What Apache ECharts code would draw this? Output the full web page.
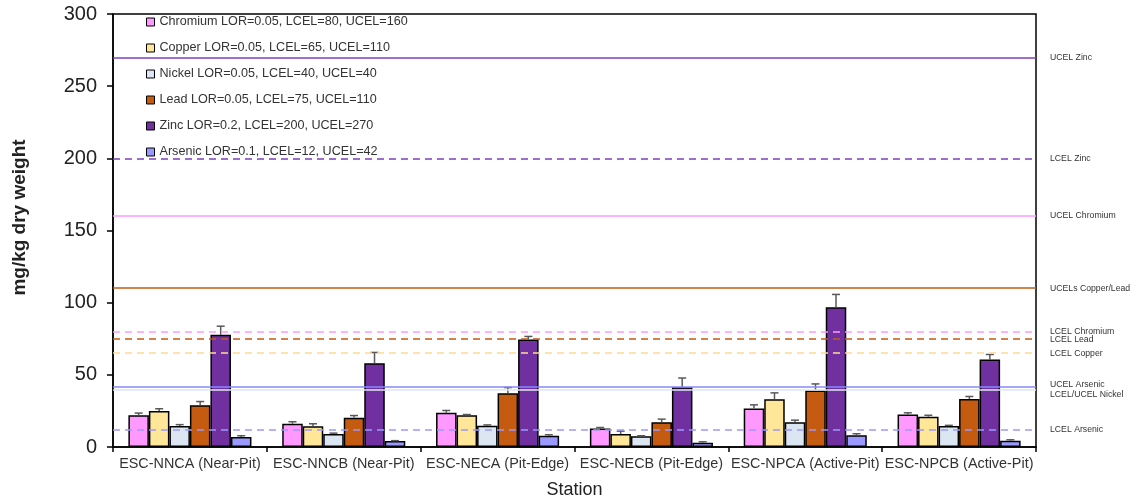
<!DOCTYPE html>
<html>
<head>
<meta charset="utf-8">
<script src="https://cdn.jsdelivr.net/npm/echarts@6/dist/echarts.min.js"></script>
<style>html,body{margin:0;padding:0;background:#fff}#chart{width:1136px;height:500px}</style>
</head>
<body>
<div id="chart"></div>
<script>
// ---- data ----
var stations = ['ESC-NNCA (Near-Pit)', 'ESC-NNCB (Near-Pit)', 'ESC-NECA (Pit-Edge)', 'ESC-NECB (Pit-Edge)', 'ESC-NPCA (Active-Pit)', 'ESC-NPCB (Active-Pit)'];
var seriesNames = ['Chromium LOR=0.05, LCEL=80, UCEL=160', 'Copper LOR=0.05, LCEL=65, UCEL=110', 'Nickel LOR=0.05, LCEL=40, UCEL=40', 'Lead LOR=0.05, LCEL=75, UCEL=110', 'Zinc LOR=0.2, LCEL=200, UCEL=270', 'Arsenic LOR=0.1, LCEL=12, UCEL=42'];
var chromium = [22, 16.1, 23.7, 12.9, 26.7, 22.5];
var copper   = [25, 14.3, 22, 9, 33.1, 20.9];
var nickel   = [14.5, 9, 14.7, 7.4, 17.2, 14.5];
var lead     = [29, 20.2, 37.2, 17.2, 39.1, 33.3];
var zinc     = [77.7, 58.1, 74.5, 41.4, 96.8, 60.7];
var arsenic  = [6.9, 4.1, 7.8, 3, 8.1, 4.3];
var chromiumErr = [1.5, 1.4, 1.6, 0.6, 2.5, 1.2];
var copperErr   = [1.5, 1.8, 0.5, 2, 4.4, 1.1];
var nickelErr   = [1, 0.6, 0.6, 0.4, 1.4, 0.5];
var leadErr     = [2.5, 1.6, 4, 2.1, 4.6, 1.7];
var zincErr     = [6, 7.4, 2.1, 6.4, 8.9, 3.4];
var arsenicErr  = [0.9, 0.3, 0.7, 0.6, 1.1, 0.7];
var refValues = [270, 200, 160, 110, 80, 75, 65, 42, 40, 12];
var refLabels = ['UCEL Zinc', 'LCEL Zinc', 'UCEL Chromium', 'UCELs Copper/Lead', 'LCEL Chromium', 'LCEL Lead', 'LCEL Copper', 'UCEL Arsenic', 'LCEL/UCEL Nickel', 'LCEL Arsenic'];
var yTicks = [0, 50, 100, 150, 200, 250, 300];

// ---- styles ----
var barColors = ['#ff99ff', '#ffe699', '#dce6f2', '#c55a11', '#7030a0', '#9999ff'];
var refStyles = [
  {color: '#7f3fbf', type: 'solid'},
  {color: '#7f3fbf', type: [7, 5]},
  {color: '#ff99ff', type: 'solid'},
  {color: '#c55a11', type: 'solid'},
  {color: '#ff99ff', type: [7, 5]},
  {color: '#c55a11', type: [7, 5]},
  {color: '#ffdb8c', type: [7, 5]},
  {color: '#8888ff', type: 'solid'},
  {color: '#dce6f2', type: 'solid'},
  {color: '#9999ff', type: [7, 5]}
];
// label vertical nudges (px): negative = up, positive = down
var refNudge = [0, 0, 0, 0, 0, 1, 0, -2, 5, 0];

var values = [chromium, copper, nickel, lead, zinc, arsenic];
var errs = [chromiumErr, copperErr, nickelErr, leadErr, zincErr, arsenicErr];
var FONT = 'Liberation Sans, Arial, sans-serif';

var series = [];
values.forEach(function (vals, k) {
  series.push({
    name: seriesNames[k], type: 'bar', data: vals,
    barGap: '0%', barCategoryGap: '20%',
    itemStyle: {color: barColors[k], borderColor: '#000', borderWidth: 1.5},
    z: 2, silent: true
  });
});
values.forEach(function (vals, k) {
  series.push({
    name: 'err' + k, type: 'custom', z: 4, silent: true,
    data: vals.map(function (v, i) { return [i, v, errs[k][i]]; }),
    renderItem: function (params, api) {
      var c = api.value(0), v = api.value(1), e = api.value(2);
      var base = api.coord([c, v]);
      var top = api.coord([c, v + e]);
      var bw = api.size([1, 0])[0] * 0.8 / 6;
      var x = base[0] + (k - 2.5) * bw;
      var st = {stroke: '#595959', lineWidth: 1.5};
      return {type: 'group', children: [
        {type: 'line', shape: {x1: x, y1: base[1], x2: x, y2: top[1]}, style: st},
        {type: 'line', shape: {x1: x - 4, y1: top[1], x2: x + 4, y2: top[1]}, style: st}
      ]};
    }
  });
});
series.push({
  name: 'refs', type: 'line', data: [], z: 5, silent: true,
  markLine: {
    silent: true, symbol: 'none', animation: false,
    data: refValues.map(function (v, i) {
      var n = refNudge[i];
      var txt = refLabels[i];
      var lh = Math.abs(n) * 2 || 10;
      if (n > 0) txt = '\n' + txt;
      if (n < 0) txt = txt + '\n';
      return {
        yAxis: v,
        lineStyle: {color: refStyles[i].color, type: refStyles[i].type, width: 1.5},
        label: {show: true, position: 'end', formatter: txt, fontSize: 8.7, color: '#333',
                fontFamily: FONT, distance: 14, lineHeight: lh}
      };
    })
  }
});

var chart = echarts.init(document.getElementById('chart'));
chart.setOption({
  animation: false,
  grid: {left: 113, right: 100, top: 14, bottom: 53, outerBoundsMode: 'none', containLabel: false,
         show: true, borderColor: '#000', borderWidth: 1.5, backgroundColor: 'transparent'},
  legend: {
    data: seriesNames, orient: 'vertical', left: 141, top: 10,
    itemWidth: 8, itemHeight: 8, itemGap: 12, icon: 'rect',
    itemStyle: {borderColor: '#000', borderWidth: 1},
    textStyle: {fontFamily: FONT, fontSize: 12.6, color: '#333', lineHeight: 14},
    selectedMode: false
  },
  xAxis: {
    type: 'category', data: stations,
    name: 'Station', nameLocation: 'middle', nameGap: 34,
    nameTextStyle: {fontFamily: FONT, fontSize: 18, color: '#222'},
    axisLine: {lineStyle: {color: '#000', width: 1.5}},
    axisTick: {show: true, length: 5, lineStyle: {color: '#000', width: 1.5}},
    axisLabel: {interval: 0, fontFamily: FONT, fontSize: 14.4, color: '#333', margin: 10}
  },
  yAxis: {
    type: 'value', min: yTicks[0], max: yTicks[yTicks.length - 1], interval: 50,
    name: 'mg/kg dry weight', nameLocation: 'middle', nameGap: 84,
    nameTextStyle: {fontFamily: FONT, fontSize: 19, fontWeight: 'bold', color: '#222', padding: [0, 0, 0, 26]},
    axisLine: {show: true, lineStyle: {color: '#000', width: 1.5}},
    axisTick: {show: true, length: 6, lineStyle: {color: '#000', width: 1.5}},
    axisLabel: {fontFamily: FONT, fontSize: 20, color: '#222', margin: 16},
    splitLine: {show: false}
  },
  series: series
});
</script>
</body>
</html>
